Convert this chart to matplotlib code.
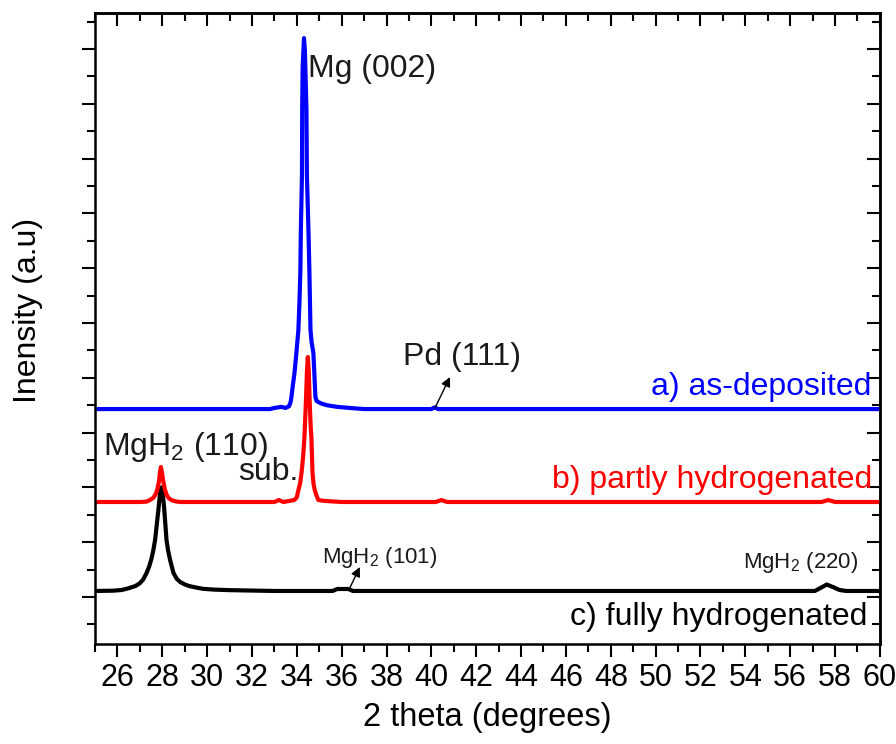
import matplotlib
matplotlib.use('Agg')
import matplotlib.pyplot as plt
from matplotlib import font_manager
from matplotlib.ticker import MultipleLocator, NullFormatter


def pick_font(names):
    for n in names:
        try:
            font_manager.findfont(font_manager.FontProperties(family=n), fallback_to_default=False)
            return n
        except ValueError:
            pass
    return 'DejaVu Sans'


main_font = pick_font(['Liberation Sans', 'Arial'])
narrow_font = pick_font(['Liberation Sans Narrow', 'Liberation Sans'])
plt.rcParams['font.family'] = [main_font, 'DejaVu Sans']
plt.rcParams['mathtext.fontset'] = 'custom'
plt.rcParams['mathtext.rm'] = main_font
plt.rcParams['mathtext.it'] = main_font + ':italic'

# a) as-deposited (2 theta, intensity)
blue_x = [25.0, 28.0, 31.0, 32.8, 33.0, 33.3, 33.5, 33.65, 33.72, 33.76, 33.82, 33.9, 33.98,
          34.07, 34.12, 34.16, 34.18, 34.23, 34.24, 34.26, 34.32, 34.36, 34.43, 34.45, 34.52,
          34.56, 34.61, 34.66, 34.74, 34.78, 34.83, 34.88, 34.95, 35.1, 35.34, 35.8, 36.37,
          37.0, 40.0, 40.15, 40.3, 60.0]
blue_y = [3430, 3430, 3430, 3430, 3450, 3470, 3450, 3480, 3550, 3650, 3850, 4100, 4450,
          4870, 5400, 5970, 6680, 7700, 8890, 9670, 10200, 9980, 8890, 7700, 6680,
          5970, 4870, 4650, 4450, 4100, 3650, 3580, 3560, 3530, 3500, 3470, 3450,
          3430, 3430, 3460, 3430, 3430]

# b) partly hydrogenated
red_x = [25.0, 27.0, 27.3, 27.45, 27.6, 27.7, 27.78, 27.85, 27.9, 27.94, 27.98, 28.04, 28.12,
         28.2, 28.3, 28.43, 28.6, 28.8, 31.0, 33.0, 33.2, 33.4, 33.89, 34.0, 34.05, 34.15,
         34.21, 34.28, 34.34, 34.40, 34.45, 34.49, 34.53, 34.58, 34.62, 34.65, 34.70, 34.75,
         34.80, 34.88, 34.96, 35.1, 35.3, 36.0, 40.2, 40.45, 40.7, 57.4, 57.7, 58.0, 60.0]
red_y = [1734, 1734, 1740, 1770, 1810, 1870, 1960, 2100, 2280, 2373, 2290, 2120, 1960,
         1860, 1800, 1765, 1745, 1734, 1734, 1734, 1770, 1734, 1770, 1820, 1916, 2080,
         2263, 2550, 2920, 3500, 4100, 4380, 4150, 3500, 3100, 2920, 2263, 2050,
         1953, 1850, 1770, 1760, 1752, 1734, 1734, 1770, 1734, 1734, 1770, 1734, 1734]

# c) fully hydrogenated
black_x = [25.0, 25.8, 26.2, 26.5, 26.8, 27.0, 27.15, 27.3, 27.42, 27.52, 27.6, 27.68, 27.75,
           27.83, 27.9, 27.96, 28.02, 28.08, 28.14, 28.19, 28.26, 28.35, 28.5, 28.65, 28.8,
           29.0, 29.2, 29.48, 29.8, 30.3, 31.0, 33.0, 35.6, 35.8, 36.3, 36.5, 57.1, 57.35,
           57.63, 57.9, 58.2, 58.5, 60.0]
black_y = [110, 115, 128, 160, 200, 250, 320, 438, 560, 700, 850, 1040, 1300,
           1600, 1880, 2000, 1900, 1650, 1320, 1040, 850, 675, 438, 330, 274,
           230, 200, 175, 150, 135, 125, 110, 110, 146, 146, 110, 110, 164,
           228, 183, 128, 110, 110]

fig = plt.figure(figsize=(8.96, 7.44), dpi=100)
ax = fig.add_axes([0.106, 0.1344, 0.876, 0.848])

ax.plot(black_x, black_y, color='black', lw=3)
ax.plot(blue_x, blue_y, color='#0000ff', lw=3)
ax.plot(red_x, red_y, color='#ff0000', lw=3)

ax.set_xlim(25, 60)
ax.set_ylim(-858, 10657)
ax.xaxis.set_major_locator(MultipleLocator(2))
ax.xaxis.set_minor_locator(MultipleLocator(1))
ax.yaxis.set_major_locator(MultipleLocator(1000))
ax.yaxis.set_minor_locator(MultipleLocator(500))
ax.yaxis.set_major_formatter(NullFormatter())
ax.tick_params(which='major', direction='out', length=9.5, width=1.5, labelsize=22, pad=4)
ax.tick_params(which='minor', direction='out', length=5.5, width=1.5)
for lab in ax.get_xticklabels():
    lab.set_fontfamily(narrow_font)
for sp in ax.spines.values():
    sp.set_linewidth(1.8)

top = ax.secondary_xaxis('top')
top.xaxis.set_major_locator(MultipleLocator(2))
top.xaxis.set_minor_locator(MultipleLocator(1))
top.xaxis.set_major_formatter(NullFormatter())
top.tick_params(which='major', direction='in', length=9.5, width=1.5)
top.tick_params(which='minor', direction='in', length=5.5, width=1.5)
top.spines['top'].set_linewidth(1.8)

right = ax.secondary_yaxis('right')
right.yaxis.set_major_locator(MultipleLocator(1000))
right.yaxis.set_minor_locator(MultipleLocator(500))
right.yaxis.set_major_formatter(NullFormatter())
right.tick_params(which='major', direction='in', length=9.5, width=1.5)
right.tick_params(which='minor', direction='in', length=5.5, width=1.5)
right.spines['right'].set_linewidth(1.8)

ax.set_xlabel('2 theta (degrees)', fontsize=23.5)
ax.xaxis.set_label_coords(0.5, -0.117)
ax.xaxis.label.set_verticalalignment('center')
ax.set_ylabel('Inensity (a.u)', fontsize=23)
ax.yaxis.set_label_coords(-0.0854, 0.529)
ax.yaxis.label.set_verticalalignment('center')

# peak labels
ax.text(34.50, 9490, 'Mg (002)', fontsize=23, va='baseline', ha='left', color='#1a1a1a')
ax.text(38.73, 4234, 'Pd (111)', fontsize=23, va='baseline', ha='left', color='#1a1a1a')
ax.annotate('', xy=(40.83, 4015), xytext=(40.16, 3450),
            arrowprops=dict(arrowstyle='-|>', color='black', lw=1, mutation_scale=14, shrinkA=0, shrinkB=0))
ax.text(25.36, 2590, 'MgH$_2$ (110)', fontsize=23, va='baseline', ha='left', color='#1a1a1a')
ax.text(34.05, 2140, 'sub.', fontsize=23, va='baseline', ha='right', color='#1a1a1a')
ax.text(35.12, 620, 'MgH$_2$ (101)', fontsize=16, va='baseline', ha='left', color='#1a1a1a')
ax.annotate('', xy=(36.81, 547), xytext=(36.32, 128),
            arrowprops=dict(arrowstyle='-|>', color='black', lw=1, mutation_scale=14, shrinkA=0, shrinkB=0))
ax.text(53.89, 529, 'MgH$_2$ (220)', fontsize=16, va='baseline', ha='left', color='#1a1a1a')

# sample labels
ax.text(59.64, 3687, 'a) as-deposited', fontsize=23, va='baseline', ha='right', color='#0000ff')
ax.text(59.64, 1989, 'b) partly hydrogenated', fontsize=23, va='baseline', ha='right', color='#ff0000')
ax.text(59.46, -511, 'c) fully hydrogenated', fontsize=23, va='baseline', ha='right', color='black')

fig.savefig('out.png', dpi=100)
